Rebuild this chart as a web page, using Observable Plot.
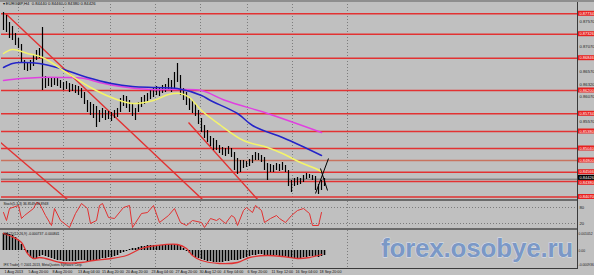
<!DOCTYPE html>
<html><head><meta charset="utf-8">
<script src="https://cdn.jsdelivr.net/npm/d3@7"></script>
<script src="https://cdn.jsdelivr.net/npm/@observablehq/plot@0.6"></script>
<style>
html,body{margin:0;padding:0;background:#c0c0c0;}
#wrap{position:relative;width:594px;height:275px;overflow:hidden;background:#c0c0c0;font-family:"Liberation Sans",Arial,sans-serif;}
#wrap svg{position:absolute;left:0;overflow:visible;}
.ln{position:absolute;}
#wm{position:absolute;left:381px;top:235px;font:bold 26px/26px "Liberation Sans",Arial,sans-serif;color:#7b98c6;-webkit-text-stroke:0.8px #dde5f2;paint-order:stroke fill;white-space:nowrap;letter-spacing:-0.2px;}
</style></head><body><div id="wrap"></div>
<script>
// ---- data (H4 bars, bar index i) ----
const highs = [0.8776,0.8770,0.8756,0.8748,0.8734,0.8724,0.8712,0.8680,0.8676,0.8680,
0.8690,0.8700,0.8704,0.8746,0.8648,0.8646,0.8644,0.8646,0.8644,0.8640,
0.8636,0.8638,0.8634,0.8632,0.8630,0.8628,0.8624,0.8616,0.8600,0.8596,
0.8592,0.8588,0.8580,0.8584,0.8580,0.8578,0.8576,0.8580,0.8584,0.8604,
0.8610,0.8608,0.8600,0.8592,0.8584,0.8596,0.8606,0.8610,0.8614,0.8620,
0.8624,0.8628,0.8626,0.8630,0.8632,0.8644,0.8640,0.8656,0.8674,0.8650,
0.8624,0.8616,0.8604,0.8600,0.8592,0.8580,0.8564,0.8550,0.8540,0.8528,
0.8524,0.8520,0.8510,0.8506,0.8504,0.8508,0.8504,0.8496,0.8484,0.8480,
0.8480,0.8478,0.8482,0.8490,0.8496,0.8494,0.8490,0.8486,0.8474,0.8472,
0.8470,0.8474,0.8472,0.8476,0.8470,0.8460,0.8440,0.8444,0.8446,0.8444,
0.8450,0.8454,0.8452,0.8450,0.8448,0.8432,0.8440,0.8444];
const lows = [0.8740,0.8736,0.8724,0.8720,0.8710,0.8704,0.8676,0.8660,0.8658,0.8660,
0.8668,0.8680,0.8684,0.8620,0.8624,0.8628,0.8626,0.8630,0.8628,0.8624,
0.8620,0.8622,0.8616,0.8618,0.8614,0.8610,0.8604,0.8592,0.8576,0.8570,
0.8564,0.8546,0.8556,0.8564,0.8560,0.8562,0.8558,0.8564,0.8566,0.8576,
0.8588,0.8584,0.8576,0.8568,0.8560,0.8576,0.8586,0.8592,0.8596,0.8602,
0.8606,0.8610,0.8608,0.8614,0.8616,0.8620,0.8616,0.8624,0.8636,0.8610,
0.8600,0.8590,0.8580,0.8574,0.8568,0.8552,0.8536,0.8524,0.8516,0.8508,
0.8500,0.8500,0.8494,0.8490,0.8488,0.8492,0.8486,0.8460,0.8452,0.8456,
0.8464,0.8466,0.8468,0.8474,0.8480,0.8480,0.8476,0.8460,0.8440,0.8456,
0.8456,0.8460,0.8458,0.8460,0.8456,0.8428,0.8416,0.8428,0.8430,0.8432,
0.8436,0.8442,0.8444,0.8440,0.8420,0.8412,0.8420,0.8428];

const maFastIdx = [0,3,8,13,21,29,36,43,50,55,59,62,66,72,80,88,93,99,104,106];
const maFastVal = [0.8694,0.8702,0.8694,0.8686,0.8656,0.8626,0.8606,0.8594,0.8600,0.8612,0.8614,0.8606,0.8580,0.8552,0.8520,0.8506,0.8494,0.8476,0.8464,0.8458];
const maMidIdx = [0,3,6,12,19,28,36,43,51,58,66,69,78,83,93,99,106];
const maMidVal = [0.8666,0.8674,0.8676,0.8674,0.8664,0.8646,0.8634,0.8628,0.8626,0.8624,0.8610,0.8600,0.8574,0.8550,0.8526,0.8510,0.8490];
const maSlowIdx = [0,6,12,19,27,32,39,49,58,66,74,88,106];
const maSlowVal = [0.8640,0.8644,0.8646,0.8646,0.8644,0.8636,0.8628,0.8622,0.8622,0.8620,0.8600,0.8574,0.8536];

const levels = [0.87734,0.87326,0.86846,0.86200,0.85734,0.85380,0.85040,0.84800,0.84566,0.84380,0.84070];
const currentPrice = 0.84426;
const priceTicks = [0.8782,0.8757,0.8732,0.8707,0.8682,0.8657,0.8632,0.8607,0.8582,0.8557,0.8532,0.8507,0.8482,0.8457,0.8432,0.8407];

const trendStartIdx = [0.67,-1,61.67];
const trendStartVal = [0.8774,0.8516,0.8556];
const trendEndIdx = [66.33,21.67,85];
const trendEndVal = [0.8402,0.8400,0.8400];
const crossStartIdx = [104,105.67];
const crossStartVal = [0.8414,0.8464];
const crossEndIdx = [108.33,108];
const crossEndVal = [0.8484,0.8420];

const gridIdx = [5,20,35.67,50.67,65.67,81.33,96.33,114.67];

const stochIdx = [0,1,2,5,6,7,10,11,12,14,16,17,19,22,24,26,28,29,31,32,33,35,37,40,42,43,46,48,50,52,55,57,59,61,63,66,67,69,71,72,74,76,77,78,80,81,83,84,86,87,89,91,92,94,96,98,100,102,103,105,106];
const stochVal = [61.25,31.25,76.25,87.5,38.75,50,76.25,98.75,95,50,12.5,76.25,31.25,5,57.5,95,76.25,20,31.25,87.5,95,42.5,38.75,80,87.5,5,57.5,61.25,87.5,23.75,50,76.25,23.75,12.5,31.25,23.75,5,38.75,31.25,38.75,20,50,42.5,12.5,68.75,80,61.25,87.5,68.75,23.75,38.75,50,38.75,23.75,50,68.75,76.25,57.5,12.5,12.5,61.25];
const stochLevels = [80,20];

const macdHist = [0.00102,0.00102,0.00096,0.00090,0.00078,0.00060,0.00036,0.00006,-0.00018,-0.00042,
-0.00054,-0.00048,-0.00036,-0.00030,-0.00036,-0.00042,-0.00048,-0.00054,-0.00060,-0.00060,
-0.00066,-0.00066,-0.00066,-0.00066,-0.00066,-0.00060,-0.00060,-0.00060,-0.00066,-0.00066,
-0.00060,-0.00060,-0.00054,-0.00048,-0.00048,-0.00042,-0.00042,-0.00036,-0.00030,-0.00018,
-0.00012,-0.00006,0.00006,0.00012,0.00012,0.00018,0.00024,0.00024,0.00030,0.00030,
0.00030,0.00030,0.00030,0.00030,0.00030,0.00036,0.00036,0.00036,0.00036,0.00024,
0.00012,-0.00006,-0.00018,-0.00030,-0.00042,-0.00048,-0.00054,-0.00060,-0.00066,-0.00066,
-0.00072,-0.00072,-0.00072,-0.00072,-0.00066,-0.00066,-0.00060,-0.00060,-0.00060,-0.00054,
-0.00048,-0.00042,-0.00036,-0.00030,-0.00030,-0.00024,-0.00024,-0.00030,-0.00030,-0.00030,
-0.00030,-0.00030,-0.00036,-0.00036,-0.00036,-0.00042,-0.00048,-0.00048,-0.00048,-0.00048,
-0.00042,-0.00042,-0.00036,-0.00036,-0.00036,-0.00042,-0.00036,-0.00030];
const sigIdx = [0,2,6,8,10,12,14,19,26,30,36,41,46,51,58,61,63,66,72,78,82,88,93,98,102,106];
const sigVal = [0.00102,0.00090,0.00048,-0.00018,-0.00048,-0.00042,-0.00048,-0.00072,-0.00072,-0.00060,-0.00048,-0.00030,0.00012,0.00030,0.00036,0.00012,-0.00030,-0.00060,-0.00078,-0.00072,-0.00042,-0.00030,-0.00036,-0.00048,-0.00042,-0.00024];
const macdAxisVals = [0.00102,0,-0.00084];
const macdAxisText = ["0.001052","0.00","-0.000936"];

const timeIdx = [0,8,16,24.5,32.5,40.5,49,57,65,73,81,89,97,105];
const timeLabels = ["1 Aug 2013","5 Aug 20:00","8 Aug 20:00","13 Aug 04:00","15 Aug 20:00","20 Aug 20:00","23 Aug 04:00","27 Aug 20:00","30 Aug 12:00","4 Sep 04:00","6 Sep 20:00","11 Sep 12:00","16 Sep 04:00","18 Sep 20:00"];

const mainTitle = "\u25BE EURGBP,H4  0.84440 0.84460 0.84380 0.84426";
const stochTitle = "Stoch(5,3,3) 36.8549 46.8948";
const macdTitle = "MACD(12,26,9) -0.000737 -0.000841";
const copyright = "IFX Trader, \u00A9 2001-2013, MetaQuotes Software Corp.";

// ---- build ----
const RED = "#e23232";
const FONT = "Liberation Sans, Arial, sans-serif";
const X0 = -2/3, X1 = 191 + 1/3;
const xOpt = {domain:[X0, X1], axis:null};
const dotted = {stroke:"#7c7c7c", strokeDasharray:"1,2", strokeWidth:1};
const zip = (a,b)=>a.map((v,i)=>({i:v, v:b[i]}));
const bars = highs.map((h,i)=>({i, high:h, low:lows[i]}));
const trends = trendStartIdx.map((x,k)=>({x1:x, y1:trendStartVal[k], x2:trendEndIdx[k], y2:trendEndVal[k]}));
const crosses = crossStartIdx.map((x,k)=>({x1:x, y1:crossStartVal[k], x2:crossEndIdx[k], y2:crossEndVal[k]}));
const boxW = 17/3, boxH = 0.0005;
const shownTicks = priceTicks.filter(t => levels.every(l => Math.abs(l - t) > 0.0009) && Math.abs(currentPrice - t) > 0.0009);
const boxShift = d => (d === 0.8438 ? 1.3 : 0);

const wrap = document.getElementById("wrap");
function place(el, top){ el.style.top = top + "px"; wrap.appendChild(el); }

const levelMarks = levels.map(l => [
  Plot.rect([l], {x1:()=>X1, x2:()=>X1+boxW, y1:d=>d-boxH, y2:d=>d+boxH, fill:"#e8201e", dy:boxShift(l)}),
  Plot.text([l], {x:()=>X1, y:d=>d, textAnchor:"start", dx:2, dy:boxShift(l), text:d=>d.toFixed(5), fontSize:4, fill:"#fff"})
]).flat();

const main = Plot.plot({
  width:594, height:200, marginTop:4, marginBottom:1, marginLeft:1, marginRight:17,
  x:xOpt, y:{domain:[0.8402,0.8792], axis:null},
  style:{background:"transparent", fontFamily:FONT},
  marks:[
    Plot.ruleX(gridIdx, dotted),
    Plot.ruleY(levels, {stroke:d=>d===0.848?"#c8735f":RED, strokeWidth:1.5}),
    Plot.ruleY([currentPrice], {stroke:"#6a6a6a", strokeWidth:1}),
    Plot.link(trends, {x1:"x1", y1:"y1", x2:"x2", y2:"y2", stroke:RED, strokeWidth:1.4, clip:true}),
    Plot.ruleX(bars, {x:"i", y1:"low", y2:"high", stroke:"#000", strokeWidth:1.2}),
    Plot.line(zip(maSlowIdx, maSlowVal), {x:"i", y:"v", stroke:"#e040e0", strokeWidth:1.5, curve:"catmull-rom"}),
    Plot.line(zip(maMidIdx, maMidVal), {x:"i", y:"v", stroke:"#2424c8", strokeWidth:1.5, curve:"catmull-rom"}),
    Plot.line(zip(maFastIdx, maFastVal), {x:"i", y:"v", stroke:"#f4f46a", strokeWidth:1.5, curve:"catmull-rom"}),
    Plot.link(crosses, {x1:"x1", y1:"y1", x2:"x2", y2:"y2", stroke:"#000", strokeWidth:1}),
    Plot.text(shownTicks, {y:d=>d, frameAnchor:"right", textAnchor:"start", dx:2, text:d=>d.toFixed(5), fontSize:4.2, fill:"#222"}),
    ...levelMarks,
    Plot.rect([currentPrice], {x1:()=>X1, x2:()=>X1+boxW, y1:d=>d-boxH, y2:d=>d+boxH, fill:"#000", dy:-1.3}),
    Plot.text([currentPrice], {x:()=>X1, y:d=>d, textAnchor:"start", dx:2, dy:-1.3, text:d=>d.toFixed(5), fontSize:4, fill:"#fff"}),
    Plot.text([mainTitle], {frameAnchor:"top-left", dx:1, dy:-2, fontSize:4.2, fill:"#111"})
  ]
});
place(main, 0);

const stoch = Plot.plot({
  width:594, height:27, marginTop:0, marginBottom:0, marginLeft:1, marginRight:17,
  x:xOpt, y:{domain:[1.25,102.5], axis:null},
  style:{background:"transparent", fontFamily:FONT},
  marks:[
    Plot.ruleX(gridIdx, dotted),
    Plot.ruleY(stochLevels, dotted),
    Plot.line(zip(stochIdx, stochVal), {x:"i", y:"v", stroke:RED, strokeWidth:1, clip:true}),
    Plot.text(stochLevels, {y:d=>d, frameAnchor:"right", textAnchor:"start", dx:2, text:d=>String(d), fontSize:4.2, fill:"#222"}),
    Plot.text([stochTitle], {frameAnchor:"top-left", dx:2, dy:1, fontSize:3.4, fill:"#111"})
  ]
});
place(stoch, 201);

const macd = Plot.plot({
  width:594, height:45, marginTop:0, marginBottom:7, marginLeft:1, marginRight:17,
  x:xOpt, y:{domain:[-0.00108,0.0012], axis:null},
  style:{background:"transparent", fontFamily:FONT},
  marks:[
    Plot.ruleX(gridIdx, dotted),
    Plot.ruleX(macdHist.map((v,i)=>({i,v})), {x:"i", y1:0, y2:"v", stroke:"#000", strokeWidth:1.6}),
    Plot.line(zip(sigIdx, sigVal), {x:"i", y:"v", stroke:RED, strokeWidth:1.3, curve:"catmull-rom"}),
    Plot.text(macdAxisVals, {y:d=>d, frameAnchor:"right", textAnchor:"start", dx:1, text:(d,i)=>macdAxisText[i], fontSize:3.4, fill:"#222"}),
    Plot.text([macdTitle], {frameAnchor:"top-left", dx:2, dy:2, fontSize:3.4, fill:"#111"}),
    Plot.text([copyright], {frameAnchor:"bottom-left", dx:2, dy:-3, fontSize:3.3, fill:"#111"}),
    Plot.text(timeIdx, {x:d=>d, frameAnchor:"bottom", textAnchor:"start", lineAnchor:"top", dx:1, dy:1.8, text:(d,i)=>timeLabels[i], fontSize:3.7, fill:"#111"})
  ]
});
place(macd, 230);

function line(l,t,w,h,c){ const d=document.createElement("div"); d.className="ln"; d.style.cssText=`left:${l}px;top:${t}px;width:${w}px;height:${h}px;background:${c}`; wrap.appendChild(d); }
line(0,0,594,2,"#8e8e8e");
line(0,199,577,2,"#6a6a6a");
line(0,228,577,2,"#6a6a6a");
line(0,268,577,1,"#3a3a3a");
line(577,2,1,267,"#3a3a3a");

const wm = document.createElement("div");
wm.id = "wm"; wm.textContent = "forex.osobye.ru";
wrap.appendChild(wm);
</script>
</body></html>
